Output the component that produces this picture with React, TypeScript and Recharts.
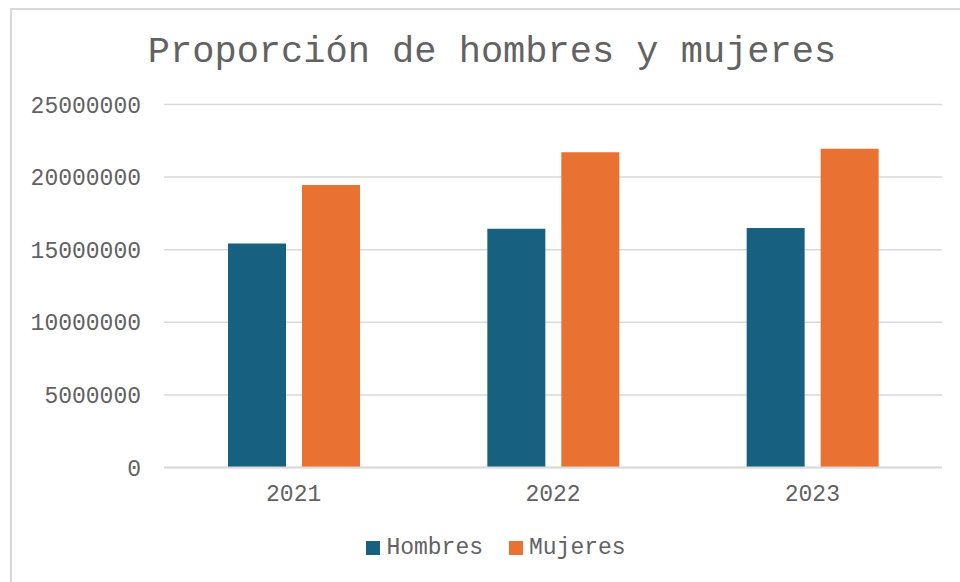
import { BarChart, Bar, XAxis, YAxis, CartesianGrid } from 'recharts'

const years = ['2021', '2022', '2023']
const hombres = [15430000, 16440000, 16490000]
const mujeres = [19450000, 21720000, 21950000]
const yTicks = [0, 5000000, 10000000, 15000000, 20000000, 25000000]

const data = years.map((year, i) => ({ year, Hombres: hombres[i], Mujeres: mujeres[i] }))

const FONT = '"Liberation Mono", "Courier New", monospace'
const TEXT = '#626262'
const COLORS = { Hombres: '#17607f', Mujeres: '#e97132' }

function LegendContent() {
  return (
    <div style={{ display: 'flex', justifyContent: 'center', fontFamily: FONT, fontSize: 23, color: TEXT }}>
      {(['Hombres', 'Mujeres'] as const).map((name) => (
        <div key={name} style={{ display: 'flex', alignItems: 'center', margin: '0 13px' }}>
          <span style={{ display: 'inline-block', width: 14, height: 14, background: COLORS[name], marginRight: 6 }} />
          <span>{name}</span>
        </div>
      ))}
    </div>
  )
}

export default function App() {
  return (
    <div style={{ position: 'absolute', left: 0, top: 0, width: 960, height: 582, overflow: 'hidden', background: '#fff' }}>
      <div
        style={{
          position: 'absolute',
          left: 10,
          top: 8,
          width: 1000,
          height: 1000,
          borderLeft: '2px solid #d9d9d9',
          borderTop: '2px solid #d9d9d9',
        }}
      />
      <div
        style={{
          position: 'absolute',
          left: 12,
          width: 960,
          top: 27,
          textAlign: 'center',
          fontFamily: FONT,
          fontSize: 37,
          color: TEXT,
          lineHeight: '50px',
        }}
      >
        Proporción de hombres y mujeres
      </div>
      <div style={{ position: 'absolute', left: 0, top: 0 }}>
        <BarChart
          width={960}
          height={582}
          data={data}
          margin={{ top: 104.5, right: 18, bottom: 54.5, left: 0 }}
          barGap={16}
          barSize={58}
        >
          <CartesianGrid vertical={false} stroke="#d9d9d9" strokeWidth={1.5} />
          <XAxis
            dataKey="year"
            axisLine={{ stroke: '#d9d9d9', strokeWidth: 2 }}
            tickLine={false}
            tickSize={0}
            tickMargin={17}
            height={60}
            tick={{ fill: TEXT, fontFamily: FONT, fontSize: 23 }}
          />
          <YAxis
            width={164}
            domain={[0, 25000000]}
            ticks={yTicks}
            interval={0}
            axisLine={false}
            tickLine={false}
            tickSize={0}
            tickMargin={23}
            tick={{ fill: TEXT, fontFamily: FONT, fontSize: 23 }}
          />
          <Bar dataKey="Hombres" fill={COLORS.Hombres} isAnimationActive={false} />
          <Bar dataKey="Mujeres" fill={COLORS.Mujeres} isAnimationActive={false} />
        </BarChart>
      </div>
      <div style={{ position: 'absolute', left: 16, width: 960, top: 535 }}>
        <LegendContent />
      </div>
    </div>
  )
}
